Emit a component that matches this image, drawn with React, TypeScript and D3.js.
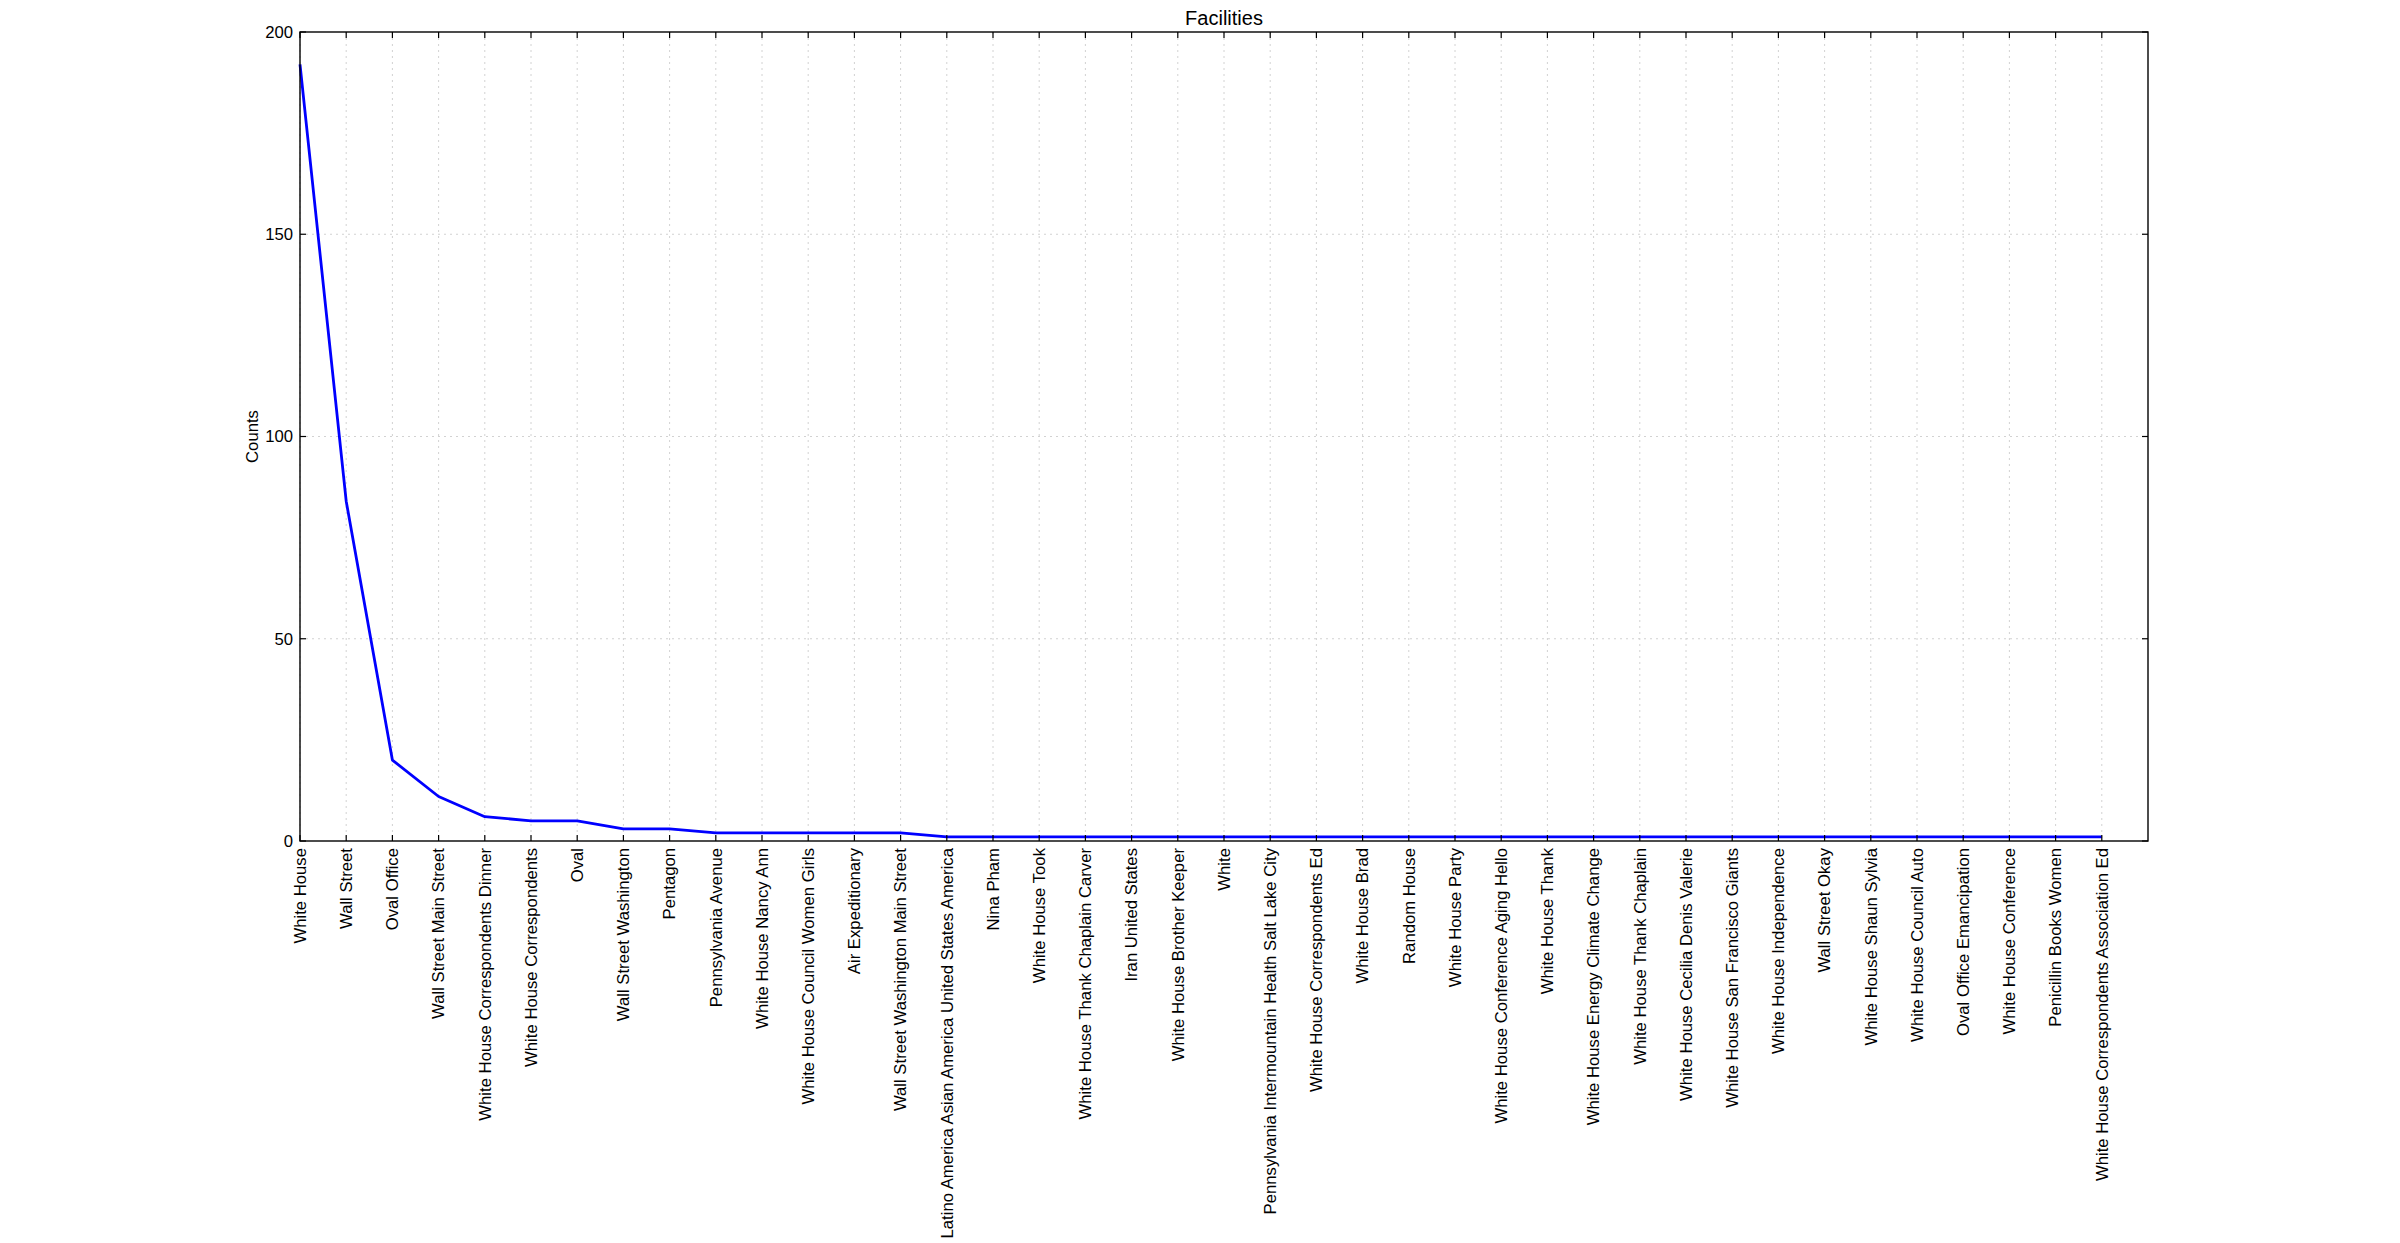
import { useEffect, useRef } from 'react';
import * as d3 from 'd3';

const facilities = [
  'White House',
  'Wall Street',
  'Oval Office',
  'Wall Street Main Street',
  'White House Correspondents Dinner',
  'White House Correspondents',
  'Oval',
  'Wall Street Washington',
  'Pentagon',
  'Pennsylvania Avenue',
  'White House Nancy Ann',
  'White House Council Women Girls',
  'Air Expeditionary',
  'Wall Street Washington Main Street',
  'Latino America Asian America United States America',
  'Nina Pham',
  'White House Took',
  'White House Thank Chaplain Carver',
  'Iran United States',
  'White House Brother Keeper',
  'White',
  'Pennsylvania Intermountain Health Salt Lake City',
  'White House Correspondents Ed',
  'White House Brad',
  'Random House',
  'White House Party',
  'White House Conference Aging Hello',
  'White House Thank',
  'White House Energy Climate Change',
  'White House Thank Chaplain',
  'White House Cecilia Denis Valerie',
  'White House San Francisco Giants',
  'White House Independence',
  'Wall Street Okay',
  'White House Shaun Sylvia',
  'White House Council Auto',
  'Oval Office Emancipation',
  'White House Conference',
  'Penicillin Books Women',
  'White House Correspondents Association Ed',
];

const counts = [
  192, 84, 20, 11, 6, 5, 5, 3, 3, 2,
  2, 2, 2, 2, 1, 1, 1, 1, 1, 1,
  1, 1, 1, 1, 1, 1, 1, 1, 1, 1,
  1, 1, 1, 1, 1, 1, 1, 1, 1, 1,
];

const yTicks = [0, 50, 100, 150, 200];

export default function App() {
  const svgRef = useRef<SVGSVGElement>(null);

  useEffect(() => {
    if (!svgRef.current) return;
    const W = 2400;
    const H = 1243;
    const margin = { top: 32, right: 252, bottom: 402, left: 300 };
    const width = W - margin.left - margin.right;
    const height = H - margin.top - margin.bottom;
    const font = '"Liberation Sans", Arial, sans-serif';

    const root = d3.select(svgRef.current);
    root.selectAll('*').remove();
    root.attr('width', W).attr('height', H).attr('viewBox', `0 0 ${W} ${H}`);

    const g = root.append('g').attr('transform', `translate(${margin.left},${margin.top})`);

    const x = d3.scaleLinear().domain([0, facilities.length]).range([0, width]);
    const y = d3.scaleLinear().domain([0, 200]).range([height, 0]);
    const idx = d3.range(facilities.length);

    // grid
    g.append('g')
      .selectAll('line')
      .data(idx)
      .join('line')
      .attr('x1', (d) => x(d))
      .attr('x2', (d) => x(d))
      .attr('y1', 0)
      .attr('y2', height)
      .attr('stroke', '#d2d2d2')
      .attr('stroke-width', 1)
      .attr('stroke-dasharray', '2,4');

    g.append('g')
      .selectAll('line')
      .data(yTicks.slice(1, -1))
      .join('line')
      .attr('x1', 0)
      .attr('x2', width)
      .attr('y1', (d) => y(d))
      .attr('y2', (d) => y(d))
      .attr('stroke', '#d2d2d2')
      .attr('stroke-width', 1)
      .attr('stroke-dasharray', '2,4');

    // line
    const line = d3
      .line<number>()
      .x((_, i) => x(i))
      .y((d) => y(d));

    g.append('path')
      .datum(counts)
      .attr('d', line)
      .attr('fill', 'none')
      .attr('stroke', '#0000ff')
      .attr('stroke-width', 2.8)
      .attr('stroke-linejoin', 'round');

    // ticks, inward on all sides
    const tl = 6;
    const ticks = g.append('g').attr('stroke', '#000').attr('stroke-width', 1.2);
    idx.forEach((i) => {
      ticks.append('line').attr('x1', x(i)).attr('x2', x(i)).attr('y1', height).attr('y2', height - tl);
      ticks.append('line').attr('x1', x(i)).attr('x2', x(i)).attr('y1', 0).attr('y2', tl);
    });
    yTicks.forEach((v) => {
      ticks.append('line').attr('x1', 0).attr('x2', tl).attr('y1', y(v)).attr('y2', y(v));
      ticks.append('line').attr('x1', width).attr('x2', width - tl).attr('y1', y(v)).attr('y2', y(v));
    });

    // frame
    g.append('rect')
      .attr('x', 0)
      .attr('y', 0)
      .attr('width', width)
      .attr('height', height)
      .attr('fill', 'none')
      .attr('stroke', '#000')
      .attr('stroke-width', 1.4);

    // y tick labels
    g.append('g')
      .selectAll('text')
      .data(yTicks)
      .join('text')
      .attr('x', -7)
      .attr('y', (d) => y(d))
      .attr('dy', '0.35em')
      .attr('text-anchor', 'end')
      .attr('font-family', font)
      .attr('font-size', '16.7px')
      .attr('fill', '#000')
      .text((d) => String(d));

    // x tick labels, rotated
    g.append('g')
      .selectAll('text')
      .data(idx)
      .join('text')
      .attr('transform', (d) => `translate(${x(d)},${height + 7}) rotate(-90)`)
      .attr('dy', '0.35em')
      .attr('text-anchor', 'end')
      .attr('font-family', font)
      .attr('font-size', '16.7px')
      .attr('fill', '#000')
      .text((d) => facilities[d]);

    // y label
    g.append('text')
      .attr('transform', `translate(${-42},${height / 2}) rotate(-90)`)
      .attr('text-anchor', 'middle')
      .attr('font-family', font)
      .attr('font-size', '16.7px')
      .attr('fill', '#000')
      .text('Counts');

    // title
    g.append('text')
      .attr('x', width / 2)
      .attr('y', -7)
      .attr('text-anchor', 'middle')
      .attr('font-family', font)
      .attr('font-size', '20px')
      .attr('fill', '#000')
      .text('Facilities');
  }, []);

  return <svg ref={svgRef} style={{ position: 'absolute', left: 0, top: 0, display: 'block', background: '#fff' }} />;
}
